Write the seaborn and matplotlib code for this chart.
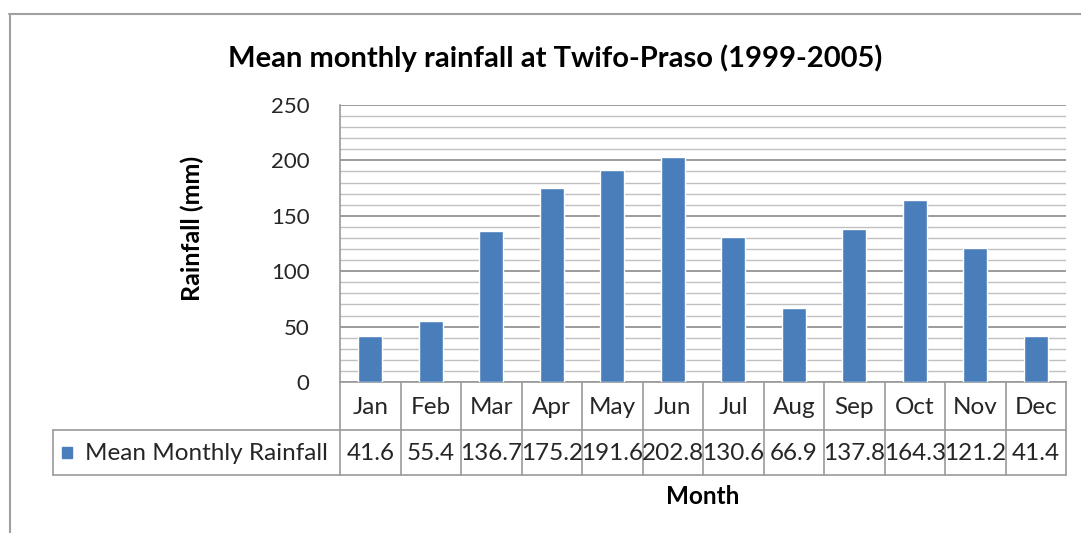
import matplotlib
matplotlib.use("Agg")
import matplotlib.pyplot as plt
import matplotlib.transforms as mtransforms
from matplotlib.lines import Line2D
from matplotlib.patches import Rectangle
import seaborn as sns
import pandas as pd

months = ["Jan", "Feb", "Mar", "Apr", "May", "Jun", "Jul", "Aug", "Sep", "Oct", "Nov", "Dec"]
rainfall = [41.6, 55.4, 136.7, 175.2, 191.6, 202.8, 130.6, 66.9, 137.8, 164.3, 121.2, 41.4]
series_name = "Mean Monthly Rainfall"
title = "Mean monthly rainfall at Twifo-Praso (1999-2005)"
y_label = "Rainfall (mm)"
x_label = "Month"
y_ticks = [0, 50, 100, 150, 200, 250]

W, H = 1081, 533
sns.set_theme(style="white")
plt.rcParams["font.family"] = ["Lato", "DejaVu Sans"]

BAR = "#4A7EBB"
TXT = "#262626"
LINE = "#9a9a9a"

fig = plt.figure(figsize=(W / 100, H / 100), dpi=100)
fig.patch.set_facecolor("white")

def fx(px):
    return px / W

def fy(py):
    return 1 - py / H

L, R, T, B = 340, 1066, 105, 382
ax = fig.add_axes([fx(L), fy(B), fx(R) - fx(L), fy(T) - fy(B)])

df = pd.DataFrame({"Month": months, "Rainfall": rainfall})
sns.barplot(data=df, x="Month", y="Rainfall", color=BAR, width=0.4,
            saturation=1, ax=ax, zorder=3)
ax.set_xlim(-0.5, len(months) - 0.5)
ax.set_ylim(0, 250)
ax.set_yticks(y_ticks)
ax.set_yticks(range(0, 251, 10), minor=True)
ax.yaxis.grid(True, which="minor", color="#c0c0c0", lw=1.0, zorder=0)
ax.yaxis.grid(True, which="major", color="#8a8a8a", lw=1.2, zorder=1)
ax.set_axisbelow(True)
ax.set_xticks([])
ax.set_xlabel("")
ax.set_ylabel("")
ax.tick_params(axis="y", which="both", length=0, pad=22, labelsize=16, labelcolor=TXT)
for s in ["top", "right"]:
    ax.spines[s].set_visible(False)
ax.spines["left"].set_color(LINE)
ax.spines["bottom"].set_color(LINE)
for s in ["left", "bottom"]:
    ax.spines[s].set_linewidth(1.2)

# data table (x in data coords, y in figure pixels)
trans = mtransforms.blended_transform_factory(ax.transData, fig.transFigure)
row1_top, row1_bot, row2_bot = B, 430, 475
n = len(months)
for i in range(n + 1):
    xb = i - 0.5
    fig.add_artist(Line2D([xb, xb], [fy(row1_top), fy(row2_bot)], transform=trans,
                          color=LINE, lw=1.2))
figtr = fig.transFigure
for yy in [row1_bot, row2_bot]:
    fig.add_artist(Line2D([fx(53), fx(R)], [fy(yy), fy(yy)], transform=figtr,
                          color=LINE, lw=1.2))
fig.add_artist(Line2D([fx(53), fx(53)], [fy(row1_bot), fy(row2_bot)], transform=figtr,
                      color=LINE, lw=1.2))

TS = 17.5
for i, (m, v) in enumerate(zip(months, rainfall)):
    fig.text(i, fy((row1_top + row1_bot) / 2 + 2), m, transform=trans, ha="center",
             va="center", fontsize=TS, color=TXT)
    fig.text(i, fy((row1_bot + row2_bot) / 2 + 1), f"{v:.1f}", transform=trans,
             ha="center", va="center", fontsize=TS, color=TXT)

# legend key
fig.add_artist(Rectangle((fx(62), fy(458)), fx(72) - fx(62), fy(447) - fy(458),
                         transform=figtr, color=BAR))
fig.text(fx(85), fy(453), series_name, ha="left", va="center", fontsize=TS, color=TXT)

# titles
fig.text(fx(555), fy(58), title, ha="center", va="center", fontsize=21,
         fontweight="bold", color="black")
fig.text(fx(192), fy(228), y_label, ha="center", va="center", rotation=90,
         fontsize=18, fontweight="bold", color="black")
fig.text(fx(703), fy(497), x_label, ha="center", va="center", fontsize=17.5,
         fontweight="bold", color="black")

# outer chart border (top and left visible)
fig.add_artist(Line2D([fx(9), fx(W)], [fy(14), fy(14)], transform=figtr, color="#a0a0a0", lw=1.5))
fig.add_artist(Line2D([fx(10), fx(10)], [fy(14), fy(H)], transform=figtr, color="#a0a0a0", lw=1.5))

fig.savefig("out.png", dpi=100, facecolor="white")
